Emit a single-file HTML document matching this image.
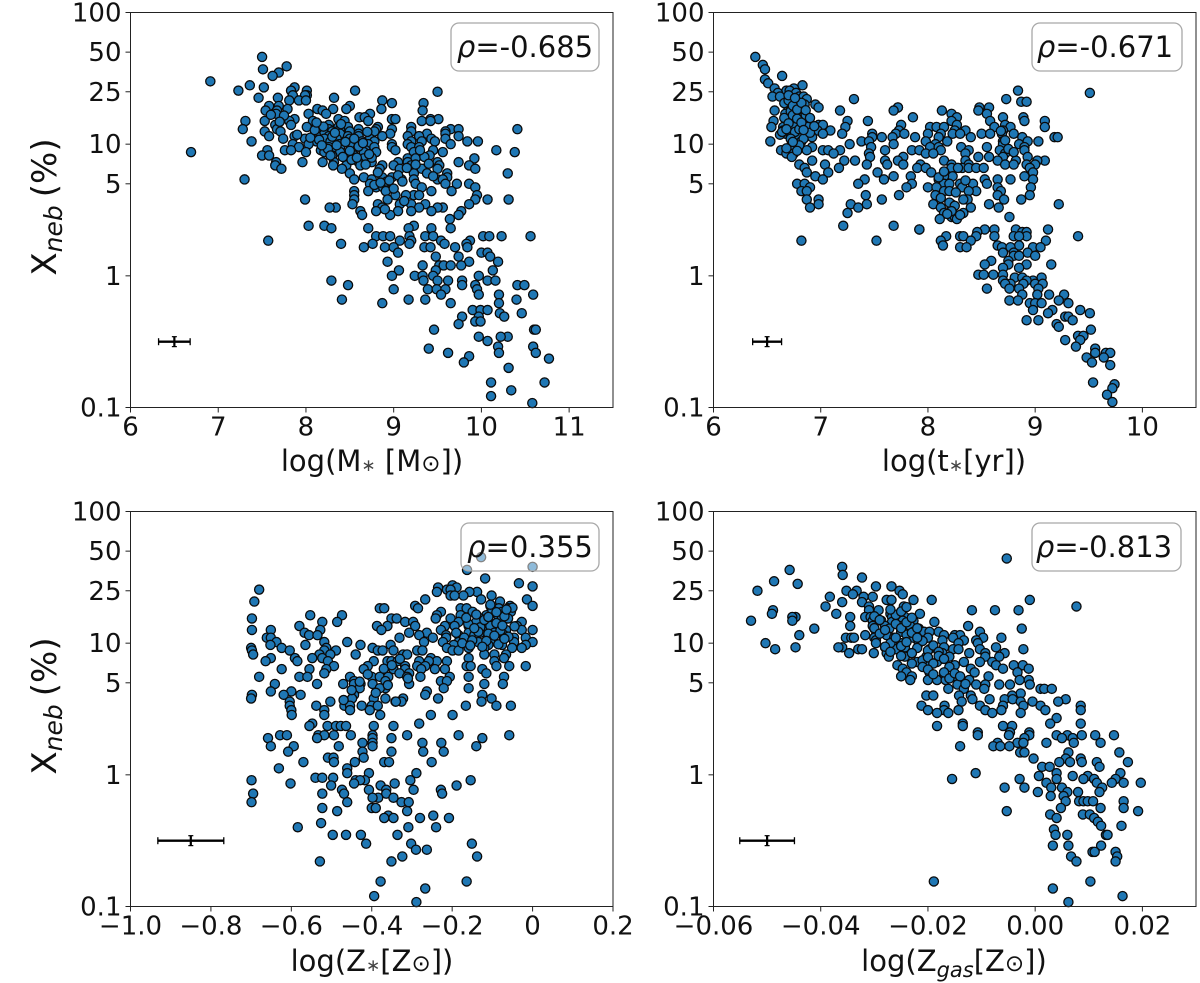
<!DOCTYPE html>
<html lang="en">
<head>
<meta charset="utf-8">
<title>Xneb correlations</title>
<style>
html,body{margin:0;padding:0;background:#fff;}
svg{display:block;font-family:"DejaVu Sans","Liberation Sans",sans-serif;fill:#111;filter:blur(.35px);}
.tick-label{font-size:26px;}
.axis-title{font-size:29px;text-anchor:middle;}
.y-title{font-size:34px;text-anchor:middle;}
.rho{font-size:29px;text-anchor:middle;}
.rho-box{fill:#fff;fill-opacity:.5;stroke:#a8a8a8;stroke-width:1.3;}
.frame{fill:none;stroke:#222;stroke-width:1;}
.star{font-size:17px;fill:#444;}
</style>
</head>
<body>
<svg id="figure" xmlns="http://www.w3.org/2000/svg" width="1200" height="983" viewBox="0 0 1200 983">
  <g>
    <g id="marks-mass"></g>
    <g id="axes-mass"></g>
    <text class="axis-title" x="372" y="471">log(M<tspan class="star">∗</tspan> [M<tspan font-size="23">⊙</tspan>])</text>
    <text class="y-title" transform="translate(56,207) rotate(-90)">X<tspan font-style="italic" font-size="25" dy="6">neb</tspan><tspan dy="-6" dx="8">(%)</tspan></text>
    <rect class="rho-box" x="451" y="23" width="148" height="48" rx="8"></rect>
    <text class="rho" x="525" y="57"><tspan font-style="italic">ρ</tspan>=-0.685</text>
  </g>
  <g>
    <g id="marks-age"></g>
    <g id="axes-age"></g>
    <text class="axis-title" x="954" y="471">log(t<tspan class="star">∗</tspan>[yr])</text>
    <rect class="rho-box" x="1032" y="23" width="150" height="48" rx="8"></rect>
    <text class="rho" x="1105" y="57"><tspan font-style="italic">ρ</tspan>=-0.671</text>
  </g>
  <g>
    <g id="marks-zstar"></g>
    <g id="axes-zstar"></g>
    <text class="axis-title" x="372" y="971">log(Z<tspan class="star">∗</tspan>[Z<tspan font-size="23">⊙</tspan>])</text>
    <text class="y-title" transform="translate(56,706) rotate(-90)">X<tspan font-style="italic" font-size="25" dy="6">neb</tspan><tspan dy="-6" dx="8">(%)</tspan></text>
    <rect class="rho-box" x="461" y="523" width="138" height="48" rx="8"></rect>
    <text class="rho" x="530" y="557"><tspan font-style="italic">ρ</tspan>=0.355</text>
  </g>
  <g>
    <g id="marks-zgas"></g>
    <g id="axes-zgas"></g>
    <text class="axis-title" x="954" y="971">log(Z<tspan font-style="italic" font-size="21" dy="6">gas</tspan><tspan dy="-6">[Z</tspan><tspan font-size="23">⊙</tspan>])</text>
    <rect class="rho-box" x="1032" y="523" width="149" height="48" rx="8"></rect>
    <text class="rho" x="1104" y="557"><tspan font-style="italic">ρ</tspan>=-0.813</text>
  </g>
</svg>
<script>
const yTickValues = [100, 50, 25, 10, 5, 1, 0.1];
const yTickLabels = ["100", "50", "25", "10", "5", "1", "0.1"];

const massTicks = [6, 7, 8, 9, 10, 11];
const massTickLabels = ["6", "7", "8", "9", "10", "11"];
const ageTicks = [6, 7, 8, 9, 10];
const ageTickLabels = ["6", "7", "8", "9", "10"];
const zstarTicks = [-1, -0.8, -0.6, -0.4, -0.2, 0, 0.2];
const zstarTickLabels = ["−1.0", "−0.8", "−0.6", "−0.4", "−0.2", "0", "0.2"];
const zgasTicks = [-0.06, -0.04, -0.02, 0, 0.02];
const zgasTickLabels = ["−0.06", "−0.04", "−0.02", "0.00", "0.02"];

const massError = [6.5, 0.18];
const ageError = [6.5, 0.135];
const zstarError = [-0.85, 0.082];
const zgasError = [-0.05, 0.0051];
const xnebError = [0.316, 0.29, 0.345];

const massX = [
7.50,
7.78,
7.51,
7.69,
7.62,
6.91,
7.36,
7.52,7.87,
7.23,7.83,8.56,8.01,
9.50,
7.85,8.01,7.99,
7.46,7.68,8.32,
7.81,7.92,8.0,8.87,
8.98,9.34,
7.58,7.69,8.5,
7.79,8.13,8.46,8.86,8.31,
7.54,7.67,8.19,9.33,
7.66,8.03,8.23,8.73,
8.61,8.67,
7.87,8.37,8.98,9.02,9.42,9.51,
7.31,7.53,7.81,8.08,8.44,8.71,9.32,9.42,
7.65,7.83,8.14,8.26,
8.01,8.37,8.48,8.82,9.2,
7.28,7.67,8.12,8.26,8.39,8.6,8.98,9.65,9.74,10.41,8.8,
7.53,7.71,8.17,8.3,8.5,8.78,9.59,9.2,
8.1,8.21,8.39,8.6,8.96,9.38,9.59,
7.58,7.87,8.12,8.26,8.48,8.6,8.87,9.16,9.29,9.74,
7.74,7.99,8.08,8.21,8.35,8.5,8.73,9.43,9.59,
7.38,8.12,8.28,8.53,8.64,8.78,9.2,9.32,9.47,9.84,9.96,
7.85,8.03,8.38,8.5,8.71,8.98,9.16,9.65,
7.92,8.26,8.39,8.62,8.78,8.98,9.2,9.29,
7.76,7.83,7.56,8.17,8.3,8.68,9.02,10.17,9.45,
6.69,8.0,8.21,8.39,8.66,8.8,9.23,9.56,10.38,
7.5,7.58,9.41,8.55,8.3,
8.48,8.66,9.92,9.16,9.25,
7.66,7.96,8.19,8.32,8.6,8.75,9.05,9.16,9.5,9.74,
7.65,8.31,8.46,8.87,9.0,9.2,9.86,9.52,
7.72,8.41,8.84,9.07,9.32,9.93,9.5,
8.5,9.23,9.61,10.3,9.38,
8.98,9.61,8.66,8.87,
7.3,8.55,8.75,9.09,9.23,9.5,9.56,
8.73,8.91,9.72,9.86,9.59,9.25,
8.8,8.88,9.93,9.32,
8.71,8.55,9.66,9.43,8.91,
8.55,9.02,9.23,9.14,9.29,9.95,
7.99,8.55,10.07,10.31,9.93,8.93,
8.82,9.07,9.86,9.2,9.36,8.53,
8.34,8.27,9.56,9.5,9.29,8.87,
8.62,9.43,9.77,9.05,9.2,8.8,
8.64,8.96,9.74,
9.64,
8.03,8.21,9.23,
8.29,8.71,9.65,9.17,9.43,
8.8,8.88,8.96,9.18,9.36,9.45,10.02,10.09,10.23,10.56,
7.57,9.07,9.2,9.54,9.87,
8.4,8.76,9.18,9.58,9.83,
8.66,8.9,9.0,9.35,9.42,9.7,9.84,
9.05,10.0,10.07,
9.48,9.74,10.1,
8.93,9.86,10.19,
9.33,9.52,9.57,9.77,9.65,
9.06,10.13,9.48,
8.98,9.24,9.33,9.45,9.97,
8.29,9.62,10.07,10.16,9.34,9.78,9.5,
8.48,9.78,9.93,10.41,10.49,
9.0,9.39,9.49,9.59,9.95,
10.2,10.59,9.54,9.97,
9.17,8.41,10.4,9.36,
8.87,9.65,10.2,
9.9,9.99,10.07,
10.21,10.46,
9.78,9.97,10.26,
9.93,9.99,
9.74,
9.46,10.6,10.62,
9.97,10.3,10.22,
10.07,
10.19,10.59,
9.4,
9.62,10.2,10.62,
9.86,
10.77,
9.8,
10.31,
10.11,10.72,
10.34,
10.11,
10.58,
8.05,8.1,8.15,8.2,8.25,8.3,8.35,8.4,8.45,8.5,8.55,8.6,8.65,8.7,8.75,
8.12,8.18,8.28,8.33,8.42,8.52,8.62,8.72,8.82,8.92,9.05,9.15,9.25,9.35,9.45,
8.78,8.85,8.95,9.0,9.1,8.68,8.58,8.9,9.12,9.4,9.3,7.75,7.7,7.6,7.9
];
const massY = [
46,
39,
37,
35,
33,
30,
28,
27,27,
25.5,25.5,25.5,25.5,
25,
23.5,23.5,23.5,
22.5,22.5,22.5,
21.5,21.5,21.5,21.5,
20.5,20.5,
19.5,19.5,19.5,
18.5,18.5,18.5,18.5,18.5,
18,18,18,18,
17,17,17,17,
16,16,
15.5,15.5,15.5,15.5,15.5,15.5,
15,15,15,15,15,15,15,15,
14,14,14,14,
13.5,13.5,13.5,13.5,13.5,
13,13,13,13,13,13,13,13,13,13,13,
12.5,12.5,12.5,12.5,12.5,12.5,12.5,12.5,
12,12,12,12,12,12,12,
11.5,11.5,11.5,11.5,11.5,11.5,11.5,11.5,11.5,11.5,
11,11,11,11,11,11,11,11,11,
10.5,10.5,10.5,10.5,10.5,10.5,10.5,10.5,10.5,10.5,10.5,
10,10,10,10,10,10,10,10,
9.5,9.5,9.5,9.5,9.5,9.5,9.5,9.5,
9,9,9,9,9,9,9,9,9,
8.7,8.7,8.7,8.7,8.7,8.7,8.7,8.7,8.7,
8.2,8.2,8.2,8.2,8.2,
7.8,7.8,7.8,7.8,7.8,
7.3,7.3,7.3,7.3,7.3,7.3,7.3,7.3,7.3,7.3,
6.9,6.9,6.9,6.9,6.9,6.9,6.9,6.9,
6.5,6.5,6.5,6.5,6.5,6.5,6.5,
6,6,6,6,6,
5.6,5.6,5.6,5.6,
5.4,5.4,5.4,5.4,5.4,5.4,5.4,
5,5,5,5,5,5,
4.7,4.7,4.7,4.7,
4.4,4.4,4.4,4.4,4.4,
4.1,4.1,4.1,4.1,4.1,4.1,
3.8,3.8,3.8,3.8,3.8,3.8,
3.5,3.5,3.5,3.5,3.5,3.5,
3.3,3.3,3.3,3.3,3.3,3.3,
3.1,3.1,3.1,3.1,3.1,3.1,
2.9,2.9,2.9,
2.7,
2.4,2.4,2.4,
2.3,2.3,2.3,2.3,2.3,
2,2,2,2,2,2,2,2,2,2,
1.85,1.85,1.85,1.85,1.85,
1.75,1.75,1.75,1.75,1.75,
1.65,1.65,1.65,1.65,1.65,1.65,1.65,
1.5,1.5,1.5,
1.4,1.4,1.4,
1.28,1.28,1.28,
1.2,1.2,1.2,1.2,1.2,
1.1,1.1,1.1,
1,1,1,1,1,
0.92,0.92,0.92,0.92,0.92,0.92,0.92,
0.85,0.85,0.85,0.85,0.85,
0.79,0.79,0.79,0.79,0.79,
0.72,0.72,0.72,0.72,
0.66,0.66,0.66,0.66,
0.62,0.62,0.62,
0.55,0.55,0.55,
0.52,0.52,
0.49,0.49,0.49,
0.45,0.45,
0.43,
0.39,0.39,0.39,
0.345,0.345,0.345,
0.32,
0.29,0.29,
0.28,
0.26,0.26,0.26,
0.245,
0.235,
0.22,
0.2,
0.155,0.155,
0.135,
0.122,
0.108,
11.2,12.8,10.8,13.6,9.2,11.4,9.8,14.2,10.4,8.9,11,9.6,10.2,12.4,7.9,
14.6,9.8,8.2,12.2,8,7.6,6.9,8.4,6.1,5.2,5.8,6.6,7.0,8.0,5.7,
4.9,5.1,5.3,4.6,5.2,7,7.9,3.2,3.7,7.1,9,16.5,14.8,16.7,11.8
];

const ageX = [
6.39,
6.46,
6.48,
6.64,
6.48,
6.51,
6.83,
6.57,6.75,
6.68,6.71,8.84,
6.6,6.77,9.51,
6.55,6.62,6.8,6.84,
6.7,8.73,6.87,7.31,
6.78,8.87,8.92,
6.68,6.85,6.95,
6.98,7.72,7.72,8.57,8.48,6.7,
6.57,6.72,7.18,7.68,8.13,8.47,
6.67,6.75,8.55,8.22,
6.83,8.27,7.86,8.7,8.89,
6.56,6.69,6.88,7.25,7.44,8.58,8.9,9.09,8.22,
6.8,6.98,7.02,7.75,8.27,8.72,
6.54,6.65,6.75,6.88,7.23,8.02,8.08,8.15,8.62,8.77,9.09,
6.65,6.82,6.97,7.09,7.73,8.25,8.35,8.7,
6.67,6.88,7.02,7.2,7.48,7.7,7.78,8,8.12,8.23,8.3,8.5,8.58,8.69,8.8,
6.72,6.8,6.92,7.48,7.57,7.67,7.88,8.1,8.4,8.88,9.18,9.21,
6.53,6.73,6.82,7.38,7.45,7.98,8.18,8.7,8.93,9.03,
7.27,7.68,8.07,8.7,8.85,
6.73,6.92,7.47,8.02,8.1,8.31,8.55,8.9,
6.63,6.87,7.02,7.07,7.18,7.6,7.85,7.92,8.12,8.38,8.67,8.9,
6.68,6.75,7.12,7.45,7.98,8.05,8.35,8.72,
6.73,7.46,7.77,8.47,8.57,8.93,8.7,
6.92,7.22,7.32,7.6,7.72,8.15,8.35,8.82,9.09,9.02,8.65,
6.8,7.04,7.43,7.62,7.77,7.93,8.22,8.38,8.72,8.8,8.92,9.0,
6.85,7.17,7.9,7.98,8.22,8.32,8.38,8.45,8.52,8.95,
6.87,7.07,7.53,8.03,8.98,
6.95,7.68,7.84,8.23,8.15,8.9,
7.02,7.41,7.59,8.1,8.53,8.65,8.77,8.98,
6.78,6.85,7.35,7.85,8.15,8.3,8.42,8.55,8.2,
6.9,7.8,8,8.08,8.32,8.65,8.96,
6.82,6.87,8.15,8.2,8.45,8.38,8.68,
7.42,8.07,7.73,8.95,8.65,
6.87,7.57,8.37,8.71,8.87,8.33,6.98,
7.28,7.43,8.05,8.57,9.22,8.22,6.98,
6.9,7.35,8.12,8.4,8.66,8.22,
7.25,8.23,8.15,8.33,
8.76,8.22,8.25,
8.11,8.27,
7.21,7.68,
7.92,7.92,9.12,8.62,8.53,8.82,
8.46,8.88,8.92,
8.17,8.3,8.33,8.45,8.62,8.8,8.92,9.4,8.85,
6.82,7.52,8.12,8.4,9.1,
8.14,8.65,8.85,
8.3,8.36,8.69,8.77,8.98,9.05,
8.7,8.8,8.93,
8.8,9.0,8.85,
8.59,8.75,
8.53,9.15,8.92,8.75,
8.85,8.7,
8.47,8.52,8.61,8.7,
8.81,9.06,8.88,
8.7,8.98,8.92,
8.77,9,8.89,8.72,9.07,
8.55,8.76,8.85,9.03,
9.02,8.88,9.27,9.13,
8.76,9.22,8.84,
8.95,9.0,9.06,9.31,
8.98,9.16,9.42,
9.12,9.51,
9.28,9.31,
8.92,9.03,9.35,
9.2,
9.22,
9.52,
9.4,9.45,
9.28,9.42,
9.38,
9.56,
9.66,9.7,9.56,
9.48,9.64,
9.53,9.7,
9.54,
9.74,
9.72,
9.67,
9.72,
6.62,6.66,6.7,6.72,6.74,6.76,6.78,6.8,6.82,6.84,6.86,6.9,6.64,6.68,6.72,
6.66,6.7,6.74,6.78,6.82,6.86,6.9,6.94,6.7,6.76,6.8,6.84,6.74,6.68,6.78,
8.2,8.25,8.1,8.15,8.35,8.22,8.3,8.26,8.18,8.12,8.28,8.68,8.72,8.75,8.8
];
const ageY = [
46,
40,
37,
33,
31,
29,
28,
26.5,26.5,
25.5,25.5,25.5,
24.5,24.5,24.5,
23,23,23,23,
22,22,22,22,
21,21,21,
20,20,20,
19,19,19,19,19,19,
18,18,18,18,18,18,
17,17,17,17,
16,16,16,16,16,
15,15,15,15,15,15,15,15,15,
14,14,14,14,14,14,
13.5,13.5,13.5,13.5,13.5,13.5,13.5,13.5,13.5,13.5,13.5,
12.7,12.7,12.7,12.7,12.7,12.7,12.7,12.7,
12,12,12,12,12,12,12,12,12,12,12,12,12,12,12,
11.3,11.3,11.3,11.3,11.3,11.3,11.3,11.3,11.3,11.3,11.3,11.3,
10.5,10.5,10.5,10.5,10.5,10.5,10.5,10.5,10.5,10.5,
10,10,10,10,10,
9.5,9.5,9.5,9.5,9.5,9.5,9.5,9.5,
9,9,9,9,9,9,9,9,9,9,9,9,
8.5,8.5,8.5,8.5,8.5,8.5,8.5,8.5,
8,8,8,8,8,8,8,
7.5,7.5,7.5,7.5,7.5,7.5,7.5,7.5,7.5,7.5,7.5,
7,7,7,7,7,7,7,7,7,7,7,7,
6.6,6.6,6.6,6.6,6.6,6.6,6.6,6.6,6.6,6.6,
6.1,6.1,6.1,6.1,6.1,
5.7,5.7,5.7,5.7,5.7,5.7,
5.4,5.4,5.4,5.4,5.4,5.4,5.4,5.4,
5,5,5,5,5,5,5,5,5,
4.7,4.7,4.7,4.7,4.7,4.7,4.7,
4.4,4.4,4.4,4.4,4.4,4.4,4.4,
4.1,4.1,4.1,4.1,4.1,
3.8,3.8,3.8,3.8,3.8,3.8,3.8,
3.5,3.5,3.5,3.5,3.5,3.5,3.5,
3.3,3.3,3.3,3.3,3.3,3.3,
3,3,3,3,
2.8,2.8,2.8,
2.7,2.7,
2.4,2.4,
2.25,2.25,2.25,2.25,2.25,2.25,
2.15,2.15,2.15,
2,2,2,2,2,2,2,2,2,
1.85,1.85,1.85,1.85,1.85,
1.7,1.7,1.7,
1.65,1.65,1.65,1.65,1.65,1.65,
1.5,1.5,1.5,
1.42,1.42,1.42,
1.3,1.3,
1.22,1.22,1.22,1.22,
1.15,1.15,
1.02,1.02,1.02,1.02,
0.97,0.97,0.97,
0.92,0.92,0.92,
0.87,0.87,0.87,0.87,0.87,
0.8,0.8,0.8,0.8,
0.72,0.72,0.72,0.72,
0.65,0.65,0.65,
0.62,0.62,0.62,0.62,
0.55,0.55,0.55,
0.52,0.52,
0.49,0.49,
0.46,0.46,0.46,
0.43,
0.41,
0.39,
0.35,0.35,
0.325,0.325,
0.29,
0.28,
0.26,0.26,0.26,
0.24,0.24,
0.22,0.21,
0.155,
0.15,
0.14,
0.125,
0.11,
11.8,15.8,14.4,17.8,16.6,12.4,15.6,13,14.6,11,16.7,12.2,12.4,13,11,
20.5,21.5,19.6,18.3,20.6,18.1,15.8,13.7,23.5,22.4,9.8,12.8,10.4,9.3,8.9,
3.6,3.4,5.6,6.2,5.3,3.1,2.9,4.3,2.95,3.9,6.6,12.6,10.7,9.2,8.7
];

const zstarX = [
-0.128,
0,
-0.163,
-0.118,
-0.034,
0,
-0.199,
-0.189,-0.235,
-0.68,-0.213,-0.204,
-0.238,-0.138,-0.157,
-0.204,-0.172,-0.194,-0.102,
-0.014,-0.267,-0.128,
-0.692,-0.081,
0,-0.056,-0.292,-0.105,
-0.38,-0.369,-0.285,-0.179,-0.164,-0.084,-0.061,
-0.228,-0.149,-0.103,-0.054,-0.076,
-0.238,-0.553,-0.474,-0.086,-0.179,-0.115,
-0.698,-0.351,-0.338,-0.241,-0.204,-0.13,-0.076,-0.061,
-0.486,-0.523,-0.317,-0.297,-0.027,-0.184,-0.14,
-0.58,-0.387,-0.361,-0.292,-0.218,-0.194,-0.159,-0.12,-0.039,-0.105,-0.084,
-0.698,-0.651,-0.376,0,-0.228,-0.14,-0.066,-0.027,-0.528,
-0.567,-0.307,-0.263,-0.159,-0.095,-0.13,
-0.556,-0.535,-0.282,-0.215,-0.184,-0.145,-0.11,-0.071,
-0.661,-0.651,-0.331,-0.248,-0.215,-0.071,-0.046,-0.017,
-0.637,-0.518,-0.461,-0.27,-0.223,-0.184,-0.135,-0.105,-0.046,0,
-0.652,-0.565,-0.428,-0.353,-0.196,-0.11,-0.076,-0.017,
-0.7,-0.624,-0.513,-0.398,-0.213,-0.159,-0.12,-0.051,-0.027,
-0.698,-0.604,-0.518,-0.489,-0.385,-0.373,-0.346,-0.287,-0.274,-0.199,-0.184,
-0.44,-0.695,-0.322,-0.503,-0.53,-0.312,-0.12,-0.095,-0.066,
-0.651,-0.548,-0.591,-0.159,-0.523,-0.253,-0.071,
-0.509,-0.585,-0.664,-0.395,-0.361,-0.351,-0.336,-0.238,-0.213,-0.282,-0.258,-0.095,
-0.494,-0.41,-0.317,-0.287,-0.267,-0.164,-0.154,-0.09,-0.017,-0.058,
-0.624,-0.555,-0.513,-0.42,-0.346,-0.317,-0.277,-0.243,-0.125,-0.218,
-0.115,-0.331,-0.307,-0.518,
-0.68,-0.58,-0.454,-0.4,-0.38,-0.359,-0.312,-0.206,-0.159,-0.279,-0.56,-0.071,
-0.444,-0.366,-0.228,-0.213,
-0.641,-0.471,-0.444,-0.428,-0.398,-0.307,-0.12,-0.074,-0.536,
-0.366,-0.38,-0.221,-0.159,-0.43,
-0.263,-0.651,-0.6,
-0.698,-0.619,-0.577,-0.444,-0.267,-0.125,
-0.7,-0.366,-0.395,-0.322,-0.102,-0.235,-0.449,
-0.604,-0.503,-0.341,-0.326,-0.127,
-0.538,-0.468,-0.454,-0.425,-0.4,-0.385,-0.166,-0.09,-0.054,-0.604,
-0.518,-0.454,-0.6,-0.405,
-0.599,-0.253,-0.199,-0.379,-0.518,
-0.548,-0.282,
-0.555,-0.51,-0.489,-0.477,-0.395,-0.464,-0.346,
-0.628,-0.611,-0.533,-0.518,-0.494,-0.452,-0.398,-0.312,-0.184,-0.058,
-0.658,-0.536,-0.398,-0.351,-0.125,
-0.398,-0.274,-0.227,-0.423,
-0.651,-0.594,-0.482,-0.398,-0.14,
-0.608,-0.423,-0.351,-0.272,-0.221,
-0.509,-0.42,-0.495,
-0.57,-0.369,-0.357,-0.442,-0.251,-0.494,
-0.631,-0.461,
-0.289,-0.407,-0.461,
-0.54,-0.523,-0.496,
-0.699,-0.44,-0.417,-0.429,-0.304,-0.154,
-0.602,-0.343,-0.444,
-0.501,-0.189,-0.378,
-0.474,-0.407,-0.296,-0.228,-0.364,
-0.695,-0.523,-0.469,-0.364,-0.225,
-0.384,-0.346,-0.398,
-0.699,-0.461,-0.326,-0.308,
-0.523,-0.4,-0.39,
-0.486,-0.312,
-0.359,-0.247,
-0.369,-0.28,-0.208,-0.346,
-0.526,
-0.584,-0.309,-0.24,
-0.497,-0.336,-0.464,-0.427,
-0.414,-0.302,-0.151,
-0.29,-0.263,
-0.138,-0.324,
-0.529,-0.351,
-0.378,-0.164,
-0.267,
-0.394,
-0.289,
-0.19,-0.17,-0.16,-0.15,-0.14,-0.13,-0.12,-0.11,-0.1,-0.09,-0.08,-0.07,-0.06,-0.05,-0.045,
-0.175,-0.155,-0.135,-0.115,-0.095,-0.075,-0.065,-0.105,-0.125,-0.145,-0.165,-0.085,-0.11,-0.09,-0.07,
-0.43,-0.41,-0.39,-0.37,-0.35,-0.33,-0.31,-0.45,-0.47,-0.36,-0.34
];
const zstarY = [
45,
38,
36,
31,
28.5,
27,
27.5,
26.5,26.5,
25.5,25.5,25.5,
24.5,24.5,24.5,
23,23,23,23,
21.5,21.5,21.5,
20.7,20.7,
19.2,19.2,19.2,19.2,
18.4,18.4,18.4,18.4,18.4,18.4,18.4,
17.3,17.3,17.3,17.3,17.3,
16.3,16.3,16.3,16.3,16.3,16.3,
15.4,15.4,15.4,15.4,15.4,15.4,15.4,15.4,
14.5,14.5,14.5,14.5,14.5,14.5,14.5,
13.5,13.5,13.5,13.5,13.5,13.5,13.5,13.5,13.5,13.5,13.5,
12.6,12.6,12.6,12.6,12.6,12.6,12.6,12.6,12.6,
12,12,12,12,12,12,
11.5,11.5,11.5,11.5,11.5,11.5,11.5,11.5,
11,11,11,11,11,11,11,11,
10.2,10.2,10.2,10.2,10.2,10.2,10.2,10.2,10.2,10.2,
9.7,9.7,9.7,9.7,9.7,9.7,9.7,9.7,
9.2,9.2,9.2,9.2,9.2,9.2,9.2,9.2,9.2,
8.8,8.8,8.8,8.8,8.8,8.8,8.8,8.8,8.8,8.8,8.8,
8.2,8.2,8.2,8.2,8.2,8.2,8.2,8.2,8.2,
7.7,7.7,7.7,7.7,7.7,7.7,7.7,
7.3,7.3,7.3,7.3,7.3,7.3,7.3,7.3,7.3,7.3,7.3,7.3,
6.7,6.7,6.7,6.7,6.7,6.7,6.7,6.7,6.7,6.7,
6.35,6.35,6.35,6.35,6.35,6.35,6.35,6.35,6.35,6.35,
5.9,5.9,5.9,5.9,
5.55,5.55,5.55,5.55,5.55,5.55,5.55,5.55,5.55,5.55,5.55,5.55,
5.15,5.15,5.15,5.15,
4.9,4.9,4.9,4.9,4.9,4.9,4.9,4.9,4.9,
4.55,4.55,4.55,4.55,4.55,
4.3,4.3,4.3,
4.05,4.05,4.05,4.05,4.05,4.05,
3.8,3.8,3.8,3.8,3.8,3.8,3.8,
3.6,3.6,3.6,3.6,3.6,
3.35,3.35,3.35,3.35,3.35,3.35,3.35,3.35,3.35,3.35,
3.1,3.1,3.1,3.1,
2.85,2.85,2.85,2.85,2.85,
2.45,2.45,
2.35,2.35,2.35,2.35,2.35,2.35,2.35,
2,2,2,2,2,2,2,2,2,2,
1.9,1.9,1.9,1.9,1.9,
1.75,1.75,1.75,1.75,
1.65,1.65,1.65,1.65,1.65,
1.5,1.5,1.5,1.5,1.5,
1.35,1.35,1.35,
1.25,1.25,1.25,1.25,1.25,1.25,
1.12,1.12,
1.03,1.03,1.03,
0.95,0.95,0.95,
0.91,0.91,0.91,0.91,0.91,0.91,
0.86,0.86,0.86,
0.83,0.83,0.83,
0.77,0.77,0.77,0.77,0.77,
0.72,0.72,0.72,0.72,0.72,
0.67,0.67,0.67,
0.62,0.62,0.62,0.62,
0.56,0.56,0.56,
0.53,0.53,
0.49,0.49,
0.47,0.47,0.47,0.47,
0.43,
0.4,0.4,0.4,
0.35,0.35,0.35,0.35,
0.3,0.3,0.3,
0.27,0.27,
0.24,0.24,
0.22,0.22,
0.155,0.155,
0.137,
0.12,
0.108,
12,11,14,10.5,16.5,13.2,15,11.8,17.8,14.2,12.5,16,11.2,18.6,13.4,
10,9.6,12.2,10.4,11.4,13.6,18,19.6,9.4,13,15.6,9.8,15.8,17.2,10.8,
5.1,5.8,4.2,6.4,6.8,7.6,5.4,4.4,3.7,4.8,3.6
];

const zgasX = [
-0.0053,
-0.036,
-0.0458,
-0.0359,
-0.0323,
-0.0487,
-0.0443,
-0.0297,-0.0268,
-0.0518,-0.0352,-0.0333,-0.0253,
-0.0247,-0.034,
-0.0383,-0.032,-0.0303,
-0.0277,-0.0268,-0.0227,-0.0193,-0.001,
-0.036,-0.0323,
-0.0391,-0.0245,0.0077,-0.031,
-0.0489,-0.031,-0.0292,-0.0118,-0.0075,-0.0031,
-0.0491,-0.0371,-0.027,-0.0215,-0.025,
-0.0345,-0.0317,-0.0307,-0.0267,-0.0243,-0.0447,-0.0453,
-0.053,-0.0303,-0.0287,-0.0247,-0.0227,-0.0453,
-0.0188,-0.0267,
-0.0345,-0.028,-0.0233,-0.0125,-0.0253,-0.0303,
-0.0412,-0.03,-0.0272,-0.0025,-0.0217,
-0.0207,-0.018,-0.0103,-0.025,-0.0227,-0.0197,
-0.0317,-0.044,-0.0297,-0.0277,-0.017,-0.015,-0.014,
-0.0353,-0.0343,-0.0338,-0.03,-0.0263,-0.0227,-0.02,-0.0153,-0.0097,-0.0063,
-0.0297,-0.0262,-0.0173,-0.011,-0.0133,
-0.0503,-0.0297,-0.025,-0.0217,-0.0143,-0.0107,
-0.0447,-0.036,-0.0367,-0.028,-0.0243,-0.0073,-0.017,
-0.0485,-0.033,-0.0323,-0.026,-0.0197,-0.0153,-0.0143,-0.0103,-0.0022,
-0.0347,-0.0301,-0.0277,-0.023,-0.0173,-0.0123,-0.0093,-0.0057,
-0.0273,-0.0243,-0.0203,-0.016,-0.0067,-0.0093,
-0.022,-0.0133,-0.0103,-0.008,-0.0183,
-0.0257,-0.004,-0.0023,-0.015,-0.0203,-0.0073,
-0.012,-0.006,-0.0012,-0.0247,
-0.024,-0.0197,-0.0033,-0.0113,
-0.025,-0.023,-0.017,-0.0147,-0.0087,
-0.0233,-0.02,-0.0183,-0.0167,-0.0029,-0.0012,-0.0123,
-0.0145,-0.011,-0.0067,-0.0047,-0.001,-0.0093,
-0.0162,-0.0133,-0.0095,0.001,0.0017,0.0031,
-0.0027,
-0.0203,-0.019,-0.0142,-0.012,-0.0043,
-0.0117,0.0057,-0.0057,-0.0085,-0.0042,
-0.0137,0.0043,-0.0027,-0.0005,
-0.0212,-0.0169,-0.0103,-0.006,0.001,0.0085,-0.0022,
-0.02,-0.017,-0.0143,-0.0093,-0.0063,0.0085,0.0019,
-0.0183,-0.0162,-0.008,-0.0027,
0.004,
-0.0135,0.0085,0.0028,
-0.0183,-0.0135,-0.0043,-0.006,
-0.0107,-0.0011,-0.0047,
-0.0107,0.004,0.006,0.0087,0.0112,0.0147,-0.0011,-0.0049,
0.005,0.007,-0.002,
0.0021,-0.007,-0.0033,-0.0022,0.0072,0.0122,
-0.014,-0.0078,-0.0065,-0.0048,
-0.0028,-0.002,0.0062,0.0157,
0.0085,0.0057,-0.0003,
0.0045,0.0065,0.0087,0.0115,0.0173,
0.0013,0.0027,0.012,
-0.0111,0.004,0.0159,
0.0007,0.007,0.0098,
-0.0155,-0.0029,0.004,0.009,0.011,0.015,
0.0021,0.0115,0.0143,0.0165,0.0197,
-0.0057,-0.002,0.003,0.005,0.0125,
0.0005,0.006,0.008,0.012,
0.0029,0.0053,
0.0057,0.0082,0.009,0.0098,0.0108,0.0165,
0.0048,0.0122,0.0165,
-0.0053,0.0192,
0.0028,0.0089,0.0102,
0.004,0.011,
0.0117,
0.0123,0.0161,
0.0035,
0.0038,0.0132,0.006,0.0135,
0.0033,0.0123,0.0062,
0.0107,0.0111,0.015,
0.0067,0.0153,
0.0077,0.015,
-0.0189,0.0103,
0.0033,
0.0163,
0.0062,
-0.03,-0.029,-0.028,-0.027,-0.026,-0.025,-0.024,-0.023,-0.022,-0.021,-0.02,-0.019,-0.018,-0.03,-0.029,
-0.028,-0.027,-0.026,-0.025,-0.024,-0.023,-0.022,-0.021,-0.02,-0.019,-0.018,-0.017,-0.016,-0.026,-0.024,
-0.027,-0.025,-0.023,-0.021,-0.022,-0.02,-0.019,-0.017,-0.016,-0.015,-0.014,-0.013,-0.025,-0.024,-0.023
];
const zgasY = [
44,
38,
36,
33,
31.5,
29.5,
28.2,
27,27,
25,25,25,25,
23.5,23.5,
22.5,22.5,22.5,
21.3,21.3,21.3,21.3,21.3,
20.5,20.5,
19,19,19,19,
17.8,17.8,17.8,17.8,17.8,17.8,
16.7,16.7,16.7,16.7,16.7,
15.8,15.8,15.8,15.8,15.8,15.8,15.8,
14.8,14.8,14.8,14.8,14.8,14.8,
14.5,14.5,
13.5,13.5,13.5,13.5,13.5,13.5,
12.9,12.9,12.9,12.9,12.9,
12.2,12.2,12.2,12.2,12.2,12.2,
11.5,11.5,11.5,11.5,11.5,11.5,11.5,
11,11,11,11,11,11,11,11,11,11,
10.5,10.5,10.5,10.5,10.5,
10,10,10,10,10,10,
9.3,9.3,9.3,9.3,9.3,9.3,9.3,
9,9,9,9,9,9,9,9,9,
8.4,8.4,8.4,8.4,8.4,8.4,8.4,8.4,
7.9,7.9,7.9,7.9,7.9,7.9,
7.2,7.2,7.2,7.2,7.2,
6.8,6.8,6.8,6.8,6.8,6.8,
6.4,6.4,6.4,6.4,
6,6,6,6,
5.6,5.6,5.6,5.6,5.6,
5.25,5.25,5.25,5.25,5.25,5.25,5.25,
4.85,4.85,4.85,4.85,4.85,4.85,
4.5,4.5,4.5,4.5,4.5,4.5,
4.15,
4,4,4,4,4,
3.75,3.75,3.75,3.75,3.75,
3.6,3.6,3.6,3.6,
3.35,3.35,3.35,3.35,3.35,3.35,3.35,
3.1,3.1,3.1,3.1,3.1,3.1,3.1,
2.95,2.95,2.95,2.95,
2.7,
2.45,2.45,2.45,
2.35,2.35,2.35,2.35,
2.1,2.1,2.1,
2,2,2,2,2,2,2,2,
1.9,1.9,1.9,
1.75,1.75,1.75,1.75,1.75,1.75,
1.65,1.65,1.65,1.65,
1.48,1.48,1.48,1.48,
1.33,1.33,1.33,
1.25,1.25,1.25,1.25,1.25,
1.15,1.15,1.15,
1.03,1.03,1.03,
0.98,0.98,0.98,
0.93,0.93,0.93,0.93,0.93,0.93,
0.87,0.87,0.87,0.87,0.87,
0.8,0.8,0.8,0.8,0.8,
0.74,0.74,0.74,0.74,
0.69,0.69,
0.63,0.63,0.63,0.63,0.63,0.63,
0.56,0.56,0.56,
0.53,0.53,
0.5,0.5,0.5,
0.47,0.47,
0.44,
0.41,0.41,
0.385,
0.35,0.35,0.35,0.35,
0.29,0.29,0.29,
0.26,0.26,0.26,
0.24,0.24,
0.22,0.22,
0.155,0.155,
0.137,
0.12,
0.108,
13,11.8,12.6,10,14,9.5,11.6,12,9.2,10.4,8.8,9.6,8.6,16,15,
9.4,8.6,11,13,10.2,8.4,13,7.4,7.8,7,8,7.6,6.6,16.4,14.4,
18,8,7,6.6,11,6.3,5.8,6,5.4,5.9,5.6,4.9,17.4,18.8,15.6
];

const SVG_NS = "http://www.w3.org/2000/svg";
function linearAxis(d0, d1, r0, r1) {
  return function (v) { return r0 + (v - d0) * (r1 - r0) / (d1 - d0); };
}
function logAxis(d0, d1, r0, r1) {
  return function (v) { return r0 + (Math.log10(v) - Math.log10(d0)) * (r1 - r0) / (Math.log10(d1) - Math.log10(d0)); };
}
function add(parent, tag, attrs, text) {
  const node = document.createElementNS(SVG_NS, tag);
  Object.keys(attrs).forEach(function (k) { node.setAttribute(k, attrs[k]); });
  if (text !== undefined) node.textContent = text;
  parent.appendChild(node);
  return node;
}
function drawLine(parent, x1, y1, x2, y2, color, width, name) {
  const ln = add(parent, "line", { x1: x1, y1: y1, x2: x2, y2: y2, stroke: color, "stroke-width": width });
  
  
  return ln;
}
function drawPanel(key, xs, ys, xDomain, xTicks, xLabels, err, left, right, top, bottom) {
  const sx = linearAxis(xDomain[0], xDomain[1], left, right);
  const sy = logAxis(0.1, 100, bottom, top);
  const marks = document.getElementById("marks-" + key);
  const axes = document.getElementById("axes-" + key);
  const n = Math.min(xs.length, ys.length);
  for (let i = 0; i < n; i++) {
    const dot = add(marks, "circle", { cx: sx(xs[i]).toFixed(2), cy: sy(ys[i]).toFixed(2), r: 4.6, fill: "#1f77b4", stroke: "#0a0a0a", "stroke-width": 1.3 });
    
    
  }
  const cx = sx(err[0]);
  const x0 = sx(err[0] - err[1]);
  const x1 = sx(err[0] + err[1]);
  const cy = sy(xnebError[0]);
  const ey0 = sy(xnebError[1]);
  const ey1 = sy(xnebError[2]);
  drawLine(marks, x0, cy, x1, cy, "#000", 2.4, "error-bar-horizontal");
  drawLine(marks, x0, cy - 3.5, x0, cy + 3.5, "#000", 1.3, "error-bar-cap");
  drawLine(marks, x1, cy - 3.5, x1, cy + 3.5, "#000", 1.3, "error-bar-cap");
  drawLine(marks, cx, ey0, cx, ey1, "#000", 2.2, "error-bar-vertical");
  drawLine(marks, cx - 2.5, ey0, cx + 2.5, ey0, "#000", 1.2, "error-bar-cap");
  drawLine(marks, cx - 2.5, ey1, cx + 2.5, ey1, "#000", 1.2, "error-bar-cap");

  const frame = add(axes, "rect", { class: "frame", x: left, y: top, width: right - left, height: bottom - top });
  
  

  xTicks.forEach(function (t, i) {
    const px = sx(t);
    drawLine(axes, px, bottom, px, bottom + 5, "#222", 1, "x-tick");
    const lab = add(axes, "text", { class: "tick-label", x: px, y: bottom + 28, "text-anchor": "middle" }, xLabels[i]);
    
    
  });
  yTickValues.forEach(function (t, i) {
    const py = sy(t);
    drawLine(axes, left - 5, py, left, py, "#222", 1, "y-tick");
    const lab = add(axes, "text", { class: "tick-label", x: left - 9, y: py + 9, "text-anchor": "end" }, yTickLabels[i]);
    
    
  });
}
drawPanel("mass", massX, massY, [6, 11.5], massTicks, massTickLabels, massError, 130.5, 613, 12.5, 407.5);
drawPanel("age", ageX, ageY, [6, 10.5], ageTicks, ageTickLabels, ageError, 713.5, 1196, 12.5, 407.5);
drawPanel("zstar", zstarX, zstarY, [-1, 0.2], zstarTicks, zstarTickLabels, zstarError, 130.5, 613, 511.5, 906.5);
drawPanel("zgas", zgasX, zgasY, [-0.06, 0.03], zgasTicks, zgasTickLabels, zgasError, 713.5, 1196, 511.5, 906.5);
</script>
</body>
</html>
